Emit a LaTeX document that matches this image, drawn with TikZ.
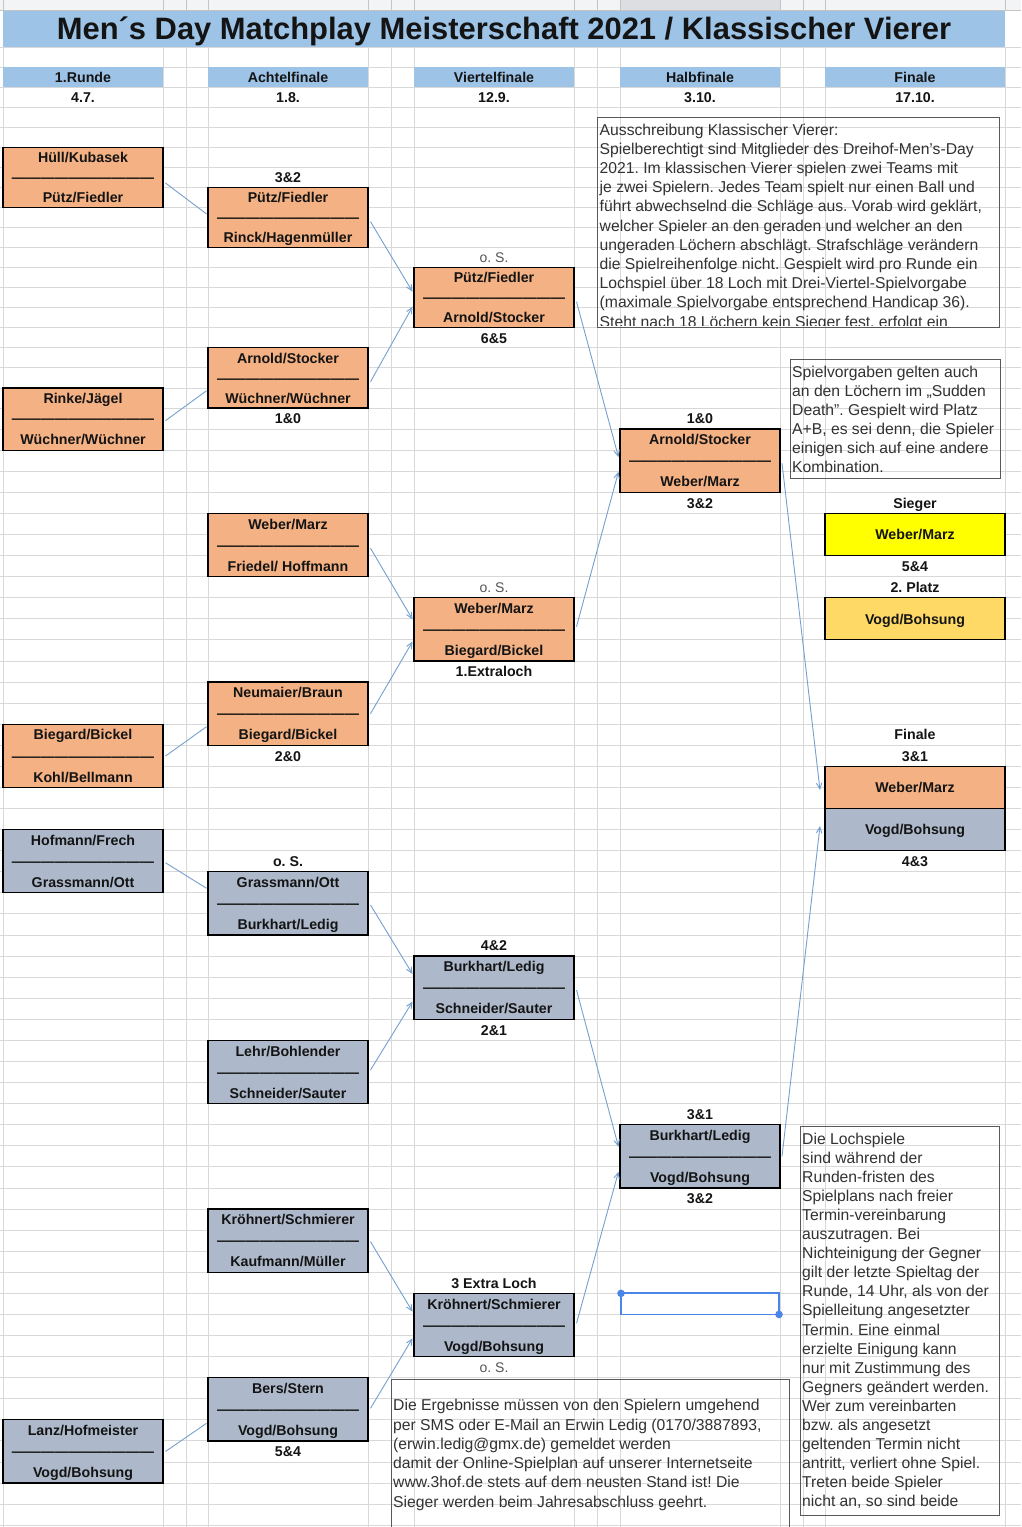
\documentclass[tikz,border=0pt]{standalone}
\usepackage{fontspec}
\setmainfont{Liberation Sans}
\usetikzlibrary{arrows.meta}
\frenchspacing
\definecolor{orng}{RGB}{244,177,131}
\definecolor{bgray}{RGB}{173,185,202}
\definecolor{hblue}{RGB}{157,195,230}
\definecolor{syel}{RGB}{255,255,0}
\definecolor{gold}{RGB}{255,217,102}
\definecolor{gridc}{RGB}{216,216,216}
\definecolor{conc}{RGB}{118,160,205}
\definecolor{selc}{RGB}{74,134,232}
\definecolor{notec}{RGB}{50,50,50}
\definecolor{osc}{RGB}{85,85,85}
\definecolor{topc}{RGB}{243,244,245}
\definecolor{topj}{RGB}{220,222,225}
\definecolor{stripc}{RGB}{196,196,196}
\newcommand\RY[2]{\pgfmathsetmacro#1{ifthenelse((#2)<=17,67+20.06*(#2),408+21.08*((#2)-17))}}
\newcommand\Dsh{——————————}
\tikzset{
 bx/.style={draw=black, line width=1.2pt, minimum width=160pt, inner sep=0pt, outer sep=0pt},
 nm/.style={font=\fontsize{14.2}{16}\selectfont\bfseries, text=black!92, inner sep=0pt},
 sc/.style={nm},
 os/.style={font=\fontsize{14}{16}\selectfont, text=osc, inner sep=0pt},
 conn/.style={draw=conc, line width=0.9pt},
 arr/.style={conn, -{Straight Barb[length=6pt,width=5.5pt]}},
 note/.style={draw=black!65, line width=0.9pt},
 nt/.style={font=\fontsize{15.7}{19}\selectfont, text=notec, inner sep=0pt, anchor=base west},
}
\newcommand\BBox[6]{%
  \RY\bbt{#3}\RY\bba{#3+1}\RY\bbc{#3+2}\RY\bbb{#3+3}%
  \node[bx, fill=#4, minimum height={\bbb-\bbt}, anchor=north west] (#1) at (#2,\bbt) {};
  \node[nm, anchor=base] (#1-t) at ({#2+80},{(\bbt+\bba)/2+5.2}) {#5};
  \node[nm, anchor=base] (#1-d) at ({#2+80},{(\bba+\bbc)/2+5.2}) {\Dsh};
  \node[nm, anchor=base] (#1-b) at ({#2+80},{(\bbc+\bbb)/2+5.2}) {#6};
}
\newcommand\Sc[5][sc]{\RY\sca{#4}\RY\scb{#4+1}\node[#1, anchor=base] (#2) at (#3,{(\sca+\scb)/2+5.2}) {#5};}
\newcommand\Conn[5][conn]{\draw[#1] ([xshift=2.5pt,yshift={-(#3)}]#2.east) -- ([xshift=-1.5pt,yshift={-(#5)}]#4.west);}
\begin{document}
\begin{tikzpicture}[x=1pt,y=-1pt]
\useasboundingbox (0,0) rectangle (1021,1527);
\fill[white] (0,0) rectangle (1021,1527);
% top strip
\fill[topc] (0,0) rectangle (1021,10.5);
\fill[topj] (620,0) rectangle (780,10.5);
\draw[stripc] (0,10.5) -- (1021,10.5);
\foreach \x in {3,163,186,208,368,391,414,574,597,620,780,803,825,1005} \draw[stripc] (\x,0) -- (\x,10.5);
% grid
\foreach \i in {0,...,70} {\RY\yy{\i}\draw[gridc, line width=0.9pt] (0,\yy) -- (1021,\yy);}
\draw[gridc, line width=0.9pt] (0,47) -- (1021,47);
\foreach \x in {3,163,186,208,368,391,414,574,597,620,780,803,825,1005} \draw[gridc, line width=0.9pt] (\x,47) -- (\x,1527);
% title
\fill[hblue] (3,11) rectangle (1005,47);
\node[font=\fontsize{30.9}{34}\selectfont\bfseries, text=black!92, inner sep=0pt, anchor=base] (title) at (504,39) {Men´s Day Matchplay Meisterschaft 2021 / Klassischer Vierer};
% header cells
\RY\ha{0}\RY\hb{1}\RY\hc{2}
\foreach \x in {3,208,414,620} \fill[hblue] (\x,\ha) rectangle ({\x+160},\hb);
\fill[hblue] (825,\ha) rectangle (1005,\hb);
\Sc{h1}{83}{0}{1.Runde}
\Sc{h2}{288}{0}{Achtelfinale}
\Sc{h3}{494}{0}{Viertelfinale}
\Sc{h4}{700}{0}{Halbfinale}
\Sc{h5}{915}{0}{Finale}
\Sc{d1}{83}{1}{4.7.}
\Sc{d2}{288}{1}{1.8.}
\Sc{d3}{494}{1}{12.9.}
\Sc{d4}{700}{1}{3.10.}
\Sc{d5}{915}{1}{17.10.}
% first round
\BBox{R1a}{3}{4}{orng}{Hüll/Kubasek}{Pütz/Fiedler}
\BBox{R1b}{3}{16}{orng}{Rinke/Jägel}{Wüchner/Wüchner}
\BBox{R1c}{3}{32}{orng}{Biegard/Bickel}{Kohl/Bellmann}
\BBox{R1d}{3}{37}{bgray}{Hofmann/Frech}{Grassmann/Ott}
\BBox{R1e}{3}{65}{bgray}{Lanz/Hofmeister}{Vogd/Bohsung}
% Achtelfinale
\BBox{AF1}{208}{6}{orng}{Pütz/Fiedler}{Rinck/Hagenmüller}
\BBox{AF2}{208}{14}{orng}{Arnold/Stocker}{Wüchner/Wüchner}
\BBox{AF3}{208}{22}{orng}{Weber/Marz}{Friedel/ Hoffmann}
\BBox{AF4}{208}{30}{orng}{Neumaier/Braun}{Biegard/Bickel}
\BBox{AF5}{208}{39}{bgray}{Grassmann/Ott}{Burkhart/Ledig}
\BBox{AF6}{208}{47}{bgray}{Lehr/Bohlender}{Schneider/Sauter}
\BBox{AF7}{208}{55}{bgray}{Kröhnert/Schmierer}{Kaufmann/Müller}
\BBox{AF8}{208}{63}{bgray}{Bers/Stern}{Vogd/Bohsung}
\Sc{s-af1}{288}{5}{3\&2}
\Sc{s-af2}{288}{17}{1\&0}
\Sc{s-af4}{288}{33}{2\&0}
\Sc{s-af5}{288}{38}{o. S.}
\Sc{s-af8}{288}{66}{5\&4}
% Viertelfinale
\BBox{VF1}{414}{10}{orng}{Pütz/Fiedler}{Arnold/Stocker}
\BBox{VF2}{414}{26}{orng}{Weber/Marz}{Biegard/Bickel}
\BBox{VF3}{414}{43}{bgray}{Burkhart/Ledig}{Schneider/Sauter}
\BBox{VF4}{414}{59}{bgray}{Kröhnert/Schmierer}{Vogd/Bohsung}
\Sc[os]{s-vf1a}{494}{9}{o. S.}
\Sc{s-vf1b}{494}{13}{6\&5}
\Sc[os]{s-vf2a}{494}{25}{o. S.}
\Sc{s-vf2b}{494}{29}{1.Extraloch}
\Sc{s-vf3a}{494}{42}{4\&2}
\Sc{s-vf3b}{494}{46}{2\&1}
\Sc{s-vf4a}{494}{58}{3 Extra Loch}
\Sc[os]{s-vf4b}{494}{62}{o. S.}
% Halbfinale
\BBox{HF1}{620}{18}{orng}{Arnold/Stocker}{Weber/Marz}
\BBox{HF2}{620}{51}{bgray}{Burkhart/Ledig}{Vogd/Bohsung}
\Sc{s-hf1a}{700}{17}{1\&0}
\Sc{s-hf1b}{700}{21}{3\&2}
\Sc{s-hf2a}{700}{50}{3\&1}
\Sc{s-hf2b}{700}{54}{3\&2}
% Sieger / 2. Platz
\RY\sa{22}\RY\sb{24}
\node[bx, fill=syel, minimum width=180pt, minimum height={\sb-\sa}, anchor=north west] (sieger) at (825,\sa) {};
\node[nm, anchor=base] (sieger-t) at (915,{(\sa+\sb)/2+5.2}) {Weber/Marz};
\RY\pa{26}\RY\pb{28}
\node[bx, fill=gold, minimum width=180pt, minimum height={\pb-\pa}, anchor=north west] (zweiter) at (825,\pa) {};
\node[nm, anchor=base] (zweiter-t) at (915,{(\pa+\pb)/2+5.2}) {Vogd/Bohsung};
\Sc{l-sieger}{915}{21}{Sieger}
\Sc{l-54}{915}{24}{5\&4}
\Sc{l-platz}{915}{25}{2. Platz}
% Finale
\RY\fa{34}\RY\fb{36}\RY\fc{38}
\fill[orng] (825,\fa) rectangle (1005,\fb);
\fill[bgray] (825,\fb) rectangle (1005,\fc);
\node[bx, minimum width=180pt, minimum height={\fc-\fa}, anchor=north west] (final) at (825,\fa) {};
\draw[line width=1.2pt] (825,\fb) -- (1005,\fb);
\node[nm, anchor=base] (final-t) at (915,{(\fa+\fb)/2+5.2}) {Weber/Marz};
\node[nm, anchor=base] (final-b) at (915,{(\fb+\fc)/2+5.2}) {Vogd/Bohsung};
\Sc{l-fin}{915}{32}{Finale}
\Sc{l-31}{915}{33}{3\&1}
\Sc{l-43}{915}{38}{4\&3}
% connectors round 1 -> Achtelfinale
\Conn{R1a}{5.7}{AF1}{-3.5}
\Conn{R1b}{1.6}{AF2}{12.8}
\Conn{R1c}{0.2}{AF4}{13}
\Conn{R1d}{1.5}{AF5}{-15.1}
\Conn{R1e}{0}{AF8}{14}
% Achtelfinale -> Viertelfinale
\Conn[arr]{AF1}{4.2}{VF1}{-6}
\Conn[arr]{AF2}{3.8}{VF1}{9}
\Conn[arr]{AF3}{3.2}{VF2}{-10}
\Conn[arr]{AF4}{0}{VF2}{12.3}
\Conn[arr]{AF5}{1.6}{VF3}{-13.7}
\Conn[arr]{AF6}{-2}{VF3}{14}
\Conn[arr]{AF7}{1}{VF4}{-13.3}
\Conn[arr]{AF8}{-1}{VF4}{13.3}
% Viertelfinale -> Halbfinale
\Conn[arr]{VF1}{4}{HF1}{-3.5}
\Conn[arr]{VF2}{-2.7}{HF1}{11}
\Conn[arr]{VF3}{2.3}{HF2}{-9.6}
\Conn[arr]{VF4}{-1.7}{HF2}{15.4}
% Halbfinale -> Finale
\draw[arr] ([xshift=2pt,yshift=-2.5pt]HF1.east) -- ([xshift=-5pt,yshift=18.5pt]final.west);
\draw[arr] ([xshift=2pt,yshift=0pt]HF2.east) -- ([xshift=-5pt,yshift=-17.5pt]final.west);
% selection rectangle
\RY\qa{59}\RY\qb{60}
\draw[selc, line width=1.8pt] (621,\qa) rectangle (779,\qb);
\fill[selc] (621,\qa) circle[radius=3.8pt];
\fill[selc] (779,\qb) circle[radius=3.8pt];
% note 1
\draw[note] (597,117.3) rectangle (999,327.3);
\begin{scope}
\clip (598,118) rectangle (998,325.5);
\foreach \t [count=\k from 0] in {
 {Ausschreibung Klassischer Vierer:},
 {Spielberechtigt sind Mitglieder des Dreihof-Men’s-Day},
 {2021. Im klassischen Vierer spielen zwei Teams mit},
 {je zwei Spielern. Jedes Team spielt nur einen Ball und},
 {führt abwechselnd die Schläge aus. Vorab wird geklärt,},
 {welcher Spieler an den geraden und welcher an den},
 {ungeraden Löchern abschlägt. Strafschläge verändern},
 {die Spielreihenfolge nicht. Gespielt wird pro Runde ein},
 {Lochspiel über 18 Loch mit Drei-Viertel-Spielvorgabe},
 {(maximale Spielvorgabe entsprechend Handicap 36).},
 {Steht nach 18 Löchern kein Sieger fest, erfolgt ein}}
 \node[nt] (na\k) at (599.5,{135.3+19.17*\k}) {\t};
\end{scope}
% note 2
\draw[note] (790,359.3) rectangle (1000.7,478);
\foreach \t [count=\k from 0] in {
 {Spielvorgaben gelten auch},
 {an den Löchern im „Sudden},
 {Death”. Gespielt wird Platz},
 {A+B, es sei denn, die Spieler},
 {einigen sich auf eine andere},
 {Kombination.}}
 \node[nt] (nb\k) at (792,{377.7+18.95*\k}) {\t};
% note 3
\draw[note] (800,1126.7) rectangle (999.3,1515);
\foreach \t [count=\k from 0] in {
 {Die Lochspiele},
 {sind während der},
 {Runden-fristen des},
 {Spielplans nach freier},
 {Termin-vereinbarung},
 {auszutragen. Bei},
 {Nichteinigung der Gegner},
 {gilt der letzte Spieltag der},
 {Runde, 14 Uhr, als von der},
 {Spielleitung angesetzter},
 {Termin. Eine einmal},
 {erzielte Einigung kann},
 {nur mit Zustimmung des},
 {Gegners geändert werden.},
 {Wer zum vereinbarten},
 {bzw. als angesetzt},
 {geltenden Termin nicht},
 {antritt, verliert ohne Spiel.},
 {Treten beide Spieler},
 {nicht an, so sind beide}}
 \node[nt] (nc\k) at (802,{1144.3+19.07*\k}) {\t};
% note 4
\draw[note] (391.7,1379.3) rectangle (789,1540);
\foreach \t [count=\k from 0] in {
 {Die Ergebnisse müssen von den Spielern umgehend},
 {per SMS oder E-Mail an Erwin Ledig (0170/3887893,},
 {(erwin.ledig@gmx.de) gemeldet werden},
 {damit der Online-Spielplan auf unserer Internetseite},
 {www.3hof.de stets auf dem neusten Stand ist! Die},
 {Sieger werden beim Jahresabschluss geehrt.}}
 \node[nt] (nd\k) at (393,{1410.7+19.3*\k}) {\t};
\end{tikzpicture}
\end{document}
